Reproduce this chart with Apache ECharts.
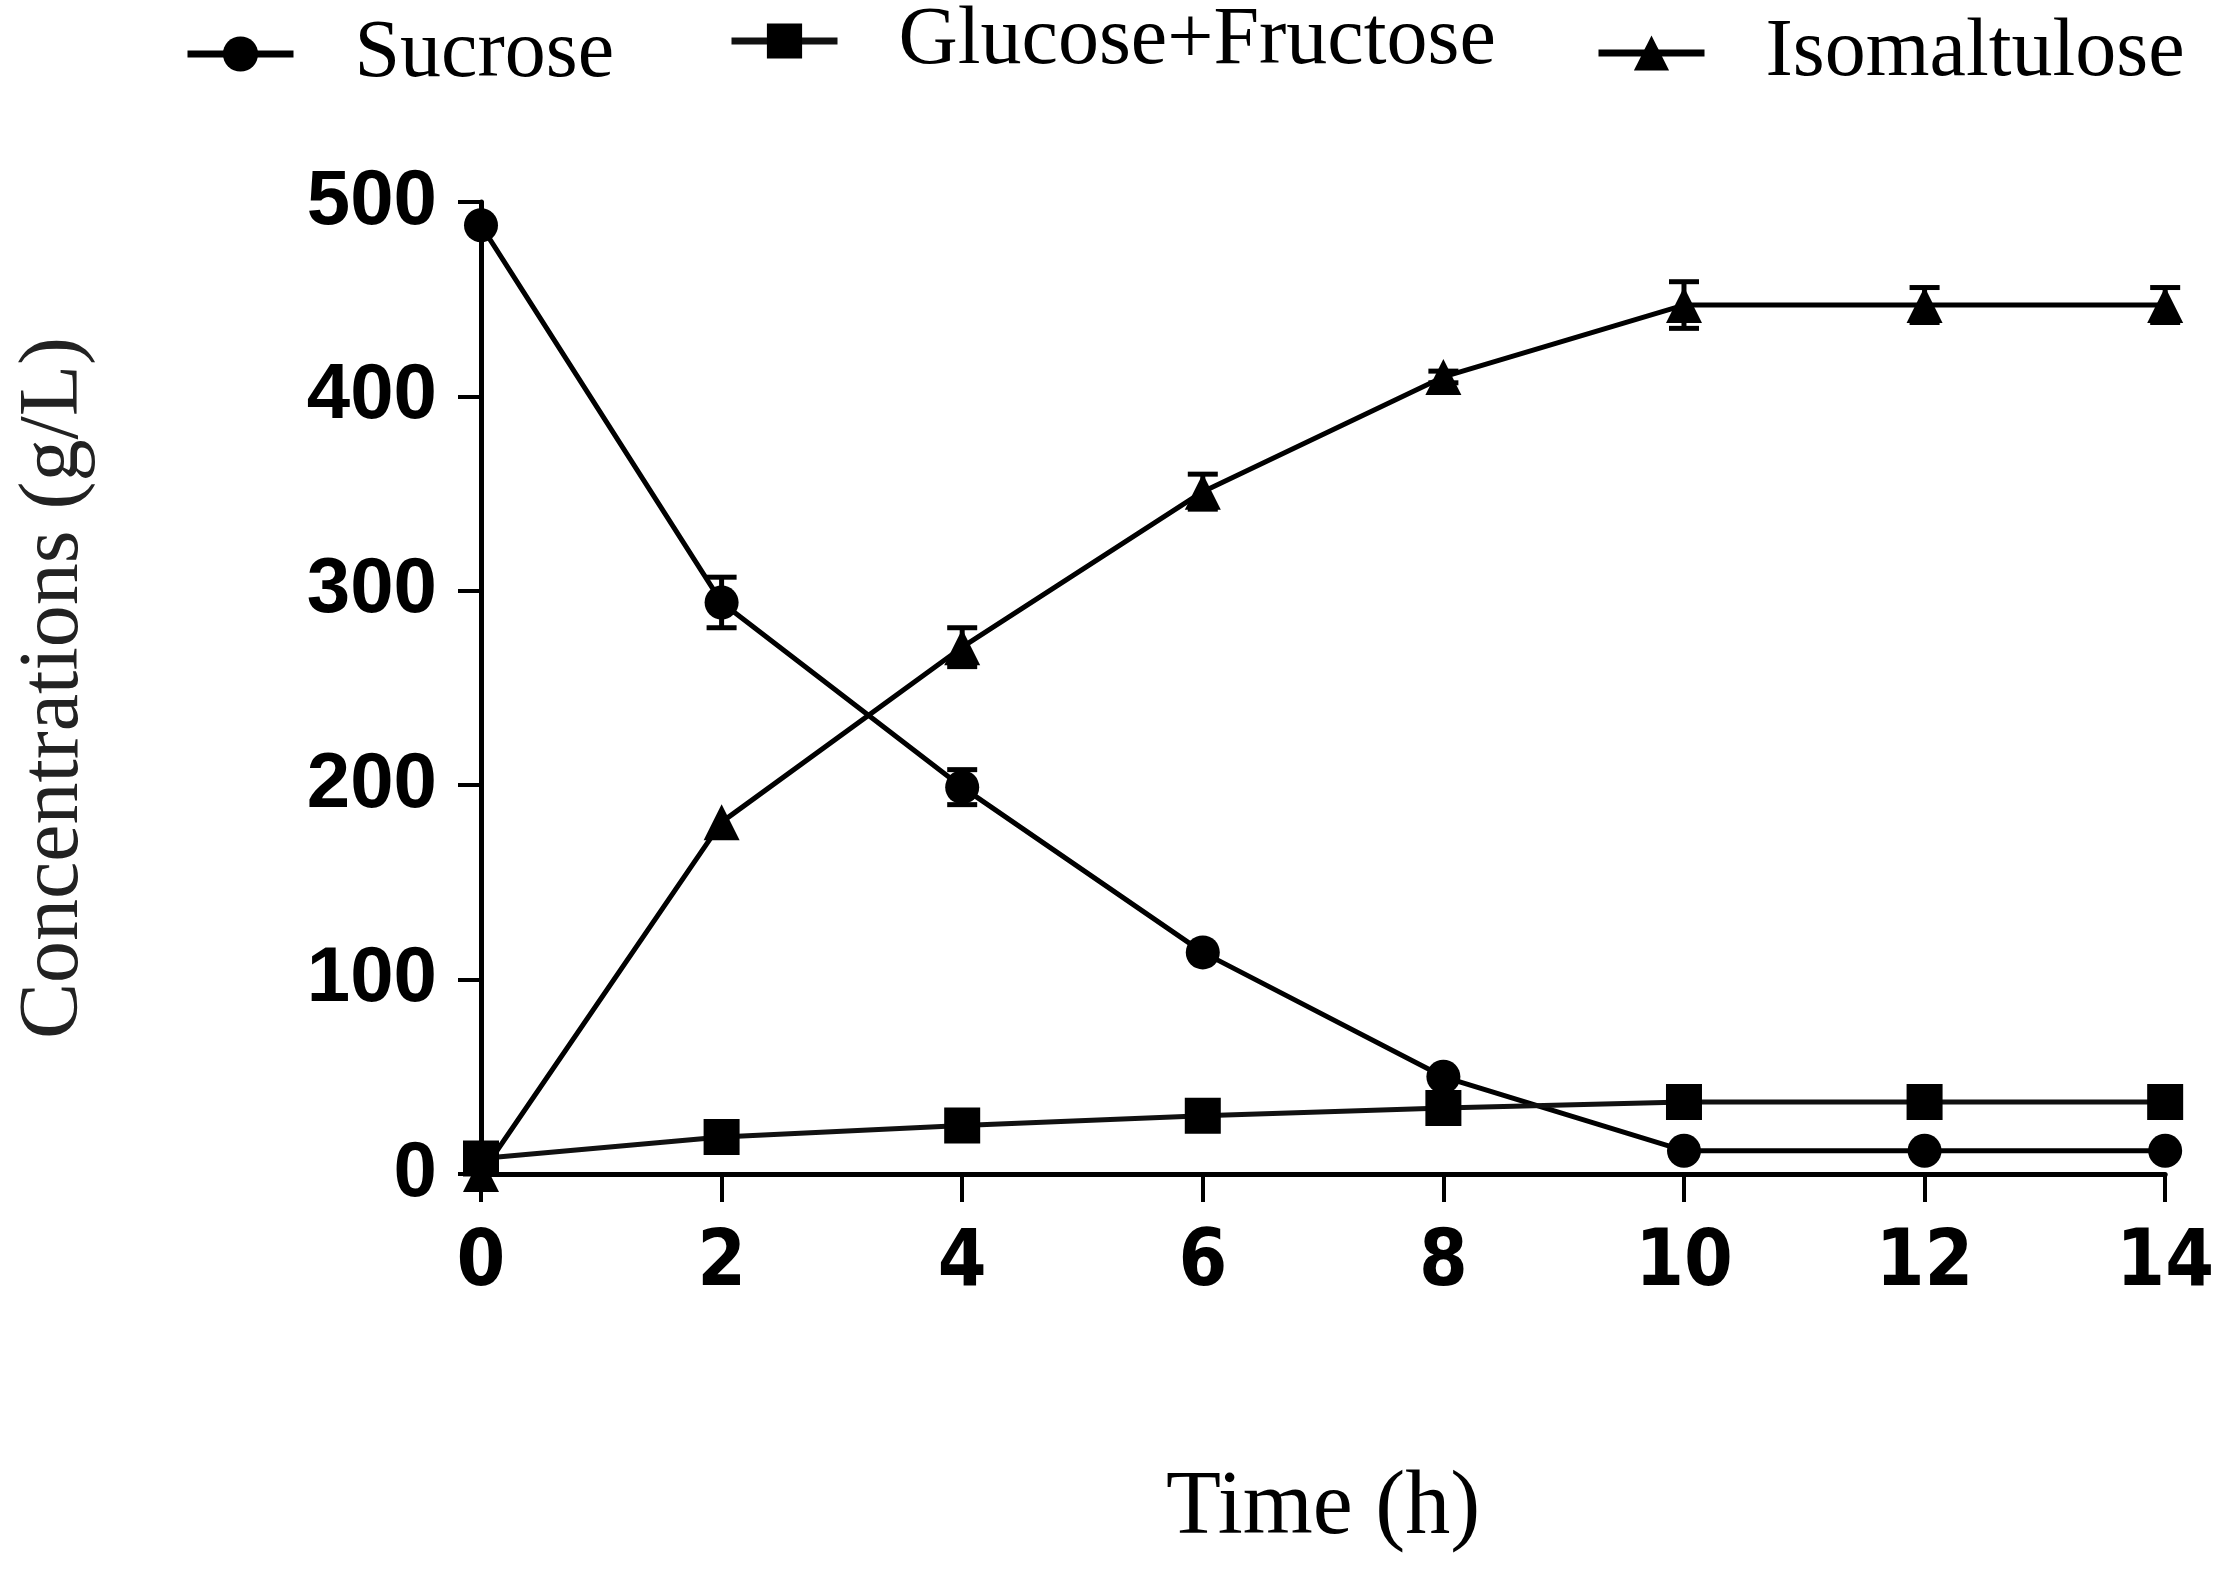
<!DOCTYPE html>
<html>
<head>
<meta charset="utf-8">
<script src="https://cdn.jsdelivr.net/npm/echarts@6/dist/echarts.min.js"></script>
<style>
  html, body { margin: 0; padding: 0; background: #fff; }
  #chart { width: 2217px; height: 1577px; }
</style>
</head>
<body>
<div id="chart"></div>
<script>
// time points (h)
var hours = [0, 2, 4, 6, 8, 10, 12, 14];
// concentrations (g/L)
var sucrose = [488, 294, 199, 114, 50, 12, 12, 12];
var glucoseFructose = [8, 19, 25, 30, 34, 37, 37, 37];
var isomaltulose = [0, 181, 271, 351, 410, 447, 447, 447];
// error bars (+/-)
var sucroseErr = [0, 13, 9, 0, 0, 0, 0, 0];
var isomaltuloseErr = [0, 0, 10, 9, 3, 12, 9, 9];

var names = ["Sucrose", "Glucose+Fructose", "Isomaltulose"];

function pairs(vals) {
  return hours.map(function (h, i) { return [h, vals[i]]; });
}

// [x, low, high] for every point with an error value
function errData(vals, errs) {
  var out = [];
  hours.forEach(function (h, i) {
    if (errs[i] > 0) out.push([h, vals[i] - errs[i], vals[i] + errs[i]]);
  });
  return out;
}

function renderErr(params, api) {
  var x = api.value(0);
  var lo = api.coord([x, api.value(1)]);
  var hi = api.coord([x, api.value(2)]);
  var cap = 15;
  var st = { stroke: "#000", lineWidth: 5 };
  return {
    type: "group",
    children: [
      { type: "line", shape: { x1: lo[0], y1: lo[1], x2: hi[0], y2: hi[1] }, style: st },
      { type: "line", shape: { x1: hi[0] - cap, y1: hi[1], x2: hi[0] + cap, y2: hi[1] }, style: st },
      { type: "line", shape: { x1: lo[0] - cap, y1: lo[1], x2: lo[0] + cap, y2: lo[1] }, style: st }
    ]
  };
}

var serif = "'Liberation Serif', 'Times New Roman', serif";

function legendAt(name, left, top) {
  return {
    data: [name],
    left: left,
    top: top,
    padding: 0,
    itemWidth: 106,
    itemHeight: 44,
    lineStyle: { width: 7 },
    selectedMode: false,
    textStyle: {
      fontFamily: serif,
      fontSize: 82,
      lineHeight: 70,
      color: "#000",
      padding: [0, 0, 0, 56]
    }
  };
}

var chart = echarts.init(document.getElementById("chart"));

var option = {
  backgroundColor: "#fff",
  animation: false,
  legend: [
    legendAt(names[0], 184, 13),
    legendAt(names[1], 728, 0),
    legendAt(names[2], 1595, 12)
  ],
  grid: { left: 481, right: 49, top: 202, bottom: 403 },
  xAxis: {
    type: "value",
    min: 0,
    max: 14,
    interval: 2,
    name: "Time (h)",
    nameLocation: "middle",
    nameGap: 290,
    nameTextStyle: { fontFamily: serif, fontSize: 90, color: "#000" },
    axisLine: { lineStyle: { color: "#000", width: 5 } },
    axisTick: { inside: false, length: 28, lineStyle: { color: "#000", width: 4 } },
    axisLabel: {
      margin: 52,
      fontFamily: "'DejaVu Sans Condensed', 'Liberation Sans', sans-serif",
      fontWeight: "bold",
      fontSize: 78,
      color: "#000"
    },
    splitLine: { show: false }
  },
  yAxis: {
    type: "value",
    min: 0,
    max: 500,
    interval: 100,
    name: "Concentrations (g/L)",
    nameLocation: "middle",
    nameRotate: 90,
    nameGap: 384,
    nameTextStyle: { fontFamily: serif, fontSize: 84, color: "#222" },
    axisLine: { show: true, lineStyle: { color: "#000", width: 5 } },
    axisTick: { show: true, inside: false, length: 23, lineStyle: { color: "#000", width: 4 } },
    axisLabel: {
      margin: 44,
      fontFamily: "'Liberation Sans', Arial, sans-serif",
      fontWeight: "bold",
      fontSize: 78,
      color: "#000"
    },
    splitLine: { show: false }
  },
  series: [
    {
      name: names[0],
      type: "line",
      data: pairs(sucrose),
      symbol: "circle",
      symbolSize: 34,
      itemStyle: { color: "#000" },
      lineStyle: { color: "#000", width: 5 }
    },
    {
      name: names[1],
      type: "line",
      data: pairs(glucoseFructose),
      symbol: "rect",
      symbolSize: 36,
      itemStyle: { color: "#000" },
      lineStyle: { color: "#111", width: 5 }
    },
    {
      name: names[2],
      type: "line",
      data: pairs(isomaltulose),
      symbol: "triangle",
      symbolSize: 36,
      itemStyle: { color: "#000" },
      lineStyle: { color: "#000", width: 5 }
    },
    {
      type: "custom",
      renderItem: renderErr,
      data: errData(sucrose, sucroseErr),
      z: 3
    },
    {
      type: "custom",
      renderItem: renderErr,
      data: errData(isomaltulose, isomaltuloseErr),
      z: 3
    }
  ]
};

chart.setOption(option);
</script>
</body>
</html>
